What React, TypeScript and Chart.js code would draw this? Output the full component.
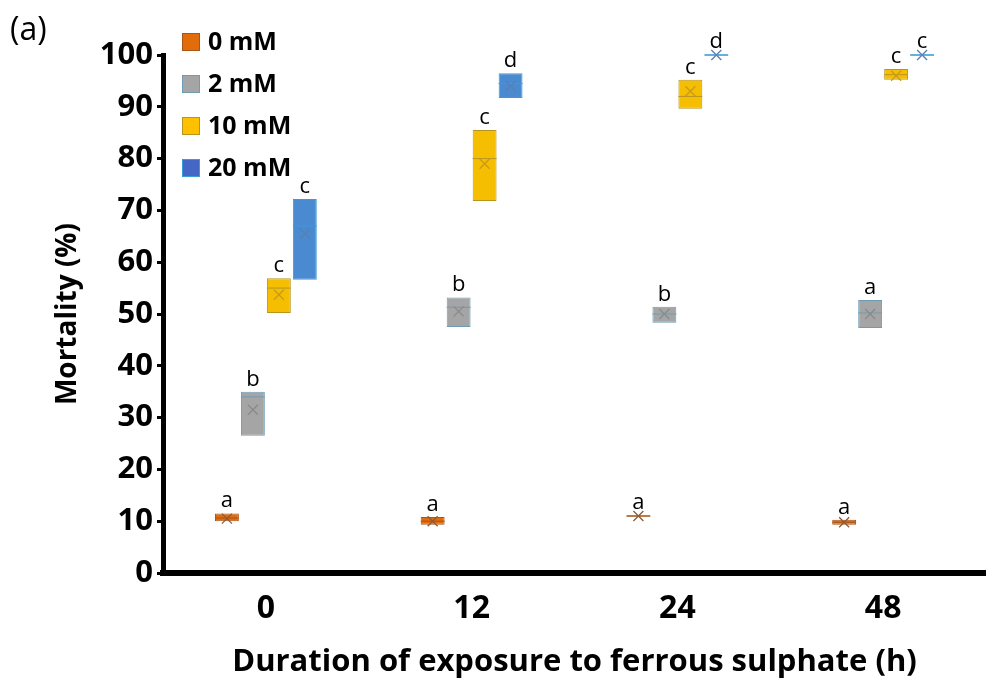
import React, { useEffect, useRef } from 'react';
import { Chart, registerables } from 'chart.js';

Chart.register(...registerables);

// ---- data ----
const categories = ['0', '12', '24', '48'];
const seriesNames = ['0 mM', '2 mM', '10 mM', '20 mM'];

const low0mM = [10, 9.3, 10.85, 9.3];
const high0mM = [11.5, 10.8, 11.15, 10.3];
const median0mM = [10.6, 10, 11, 9.8];
const mean0mM = [10.5, 10, 11, 9.8];
const letters0mM = ['a', 'a', 'a', 'a'];

const low2mM = [26.5, 47.5, 48.3, 47.3];
const high2mM = [35, 53.2, 51.4, 52.7];
const median2mM = [34, 51.3, 50, 50.2];
const mean2mM = [31.5, 50.5, 50, 50];
const letters2mM = ['b', 'b', 'b', 'a'];

const low10mM = [50.2, 71.8, 89.6, 95.2];
const high10mM = [56.9, 85.5, 95.2, 97.3];
const median10mM = [55, 80, 92, 96.2];
const mean10mM = [53.7, 79, 93, 96];
const letters10mM = ['c', 'c', 'c', 'c'];

const low20mM = [56.6, 91.7, 99.85, 99.85];
const high20mM = [72.2, 96.5, 100.15, 100.15];
const median20mM = [67, 94.5, 100, 100];
const mean20mM = [65.5, 94, 100, 100];
const letters20mM = ['c', 'd', 'd', 'c'];

const yTicks = [0, 10, 20, 30, 40, 50, 60, 70, 80, 90, 100];

// ---- styles ----
const fillColors = ['#E36C0A', '#A5A5A5', '#F5BE00', '#4A8AD0'];
const borderColors = ['#A9551A', '#6E9CB5', '#B99520', '#3C9BD6'];
const legendColors = ['#E36C0A', '#A5A5A5', '#FFC000', '#4466C4'];
const markerColors = ['#8C5A3C', '#8A8A8A', '#C89A20', '#5A7FB0'];

const lows = [low0mM, low2mM, low10mM, low20mM];
const highs = [high0mM, high2mM, high10mM, high20mM];
const medians = [median0mM, median2mM, median10mM, median20mM];
const means = [mean0mM, mean2mM, mean10mM, mean20mM];
const letters = [letters0mM, letters2mM, letters10mM, letters20mM];

const FONT = '"Open Sans", "Noto Sans", sans-serif';

const overlayPlugin = {
  id: 'overlay',
  afterDatasetsDraw(chart: any) {
    const ctx = chart.ctx;
    const ys = chart.scales.y;
    ctx.save();
    chart.data.datasets.forEach((ds: any, di: number) => {
      const meta = chart.getDatasetMeta(di);
      meta.data.forEach((bar: any, i: number) => {
        const p = bar.getProps(['x', 'y', 'base', 'width'], true);
        const half = p.width / 2;
        // median line
        const ym = ys.getPixelForValue(medians[di][i]);
        ctx.strokeStyle = borderColors[di];
        ctx.lineWidth = 1;
        ctx.beginPath();
        ctx.moveTo(p.x - half, ym);
        ctx.lineTo(p.x + half, ym);
        ctx.stroke();
        // mean marker
        const yMean = ys.getPixelForValue(means[di][i]);
        const s = 5;
        ctx.strokeStyle = markerColors[di];
        ctx.lineWidth = 1.3;
        ctx.beginPath();
        ctx.moveTo(p.x - s, yMean - s);
        ctx.lineTo(p.x + s, yMean + s);
        ctx.moveTo(p.x + s, yMean - s);
        ctx.lineTo(p.x - s, yMean + s);
        ctx.stroke();
        // significance letter
        const top = Math.min(p.y, p.base);
        ctx.fillStyle = '#000';
        ctx.font = `22px ${FONT}`;
        ctx.textAlign = 'center';
        ctx.textBaseline = 'alphabetic';
        ctx.fillText(letters[di][i], p.x, top - 6);
      });
    });
    ctx.restore();
  },
  afterDraw(chart: any) {
    const ctx = chart.ctx;
    const area = chart.chartArea;
    ctx.save();
    // legend
    chart.data.datasets.forEach((ds: any, di: number) => {
      const bx = area.left + 19;
      const by = area.top - 22 + di * 42;
      ctx.fillStyle = legendColors[di];
      ctx.fillRect(bx, by, 18, 18);
      ctx.strokeStyle = borderColors[di];
      ctx.lineWidth = 1;
      ctx.strokeRect(bx + 0.5, by + 0.5, 17, 17);
      ctx.fillStyle = '#000';
      ctx.font = `bold 25px ${FONT}`;
      ctx.textAlign = 'left';
      ctx.textBaseline = 'middle';
      ctx.fillText(ds.label, bx + 26, by + 10);
    });
    // panel label
    ctx.font = `32px ${FONT}`;
    ctx.textAlign = 'left';
    ctx.textBaseline = 'middle';
    ctx.fillStyle = '#000';
    ctx.fillText('(a)', 10, 31);
    ctx.restore();
  },
};

export default function App() {
  const ref = useRef<HTMLCanvasElement | null>(null);
  useEffect(() => {
    if (!ref.current) return;
    const chart = new Chart(ref.current, {
      type: 'bar',
      data: {
        labels: categories,
        datasets: seriesNames.map((name, di) => ({
          label: name,
          data: lows[di].map((lo, i) => [lo, highs[di][i]]),
          backgroundColor: fillColors[di],
          borderColor: borderColors[di],
          borderWidth: 1,
          borderSkipped: false,
          categoryPercentage: 0.505,
          barPercentage: 0.92,
          clip: 20,
        })) as any,
      },
      options: {
        responsive: false,
        animation: false,
        layout: { padding: { left: 0, top: 55, right: 3, bottom: 0 } },
        plugins: {
          legend: { display: false },
          tooltip: { enabled: false },
        },
        scales: {
          x: {
            grid: { display: true, drawOnChartArea: false, drawTicks: false, lineWidth: 0 },
            border: { display: true, color: '#000', width: 6 },
            ticks: {
              color: '#000',
              padding: 17,
              font: { family: FONT, size: 32, weight: 'bold' },
            },
            title: {
              display: true,
              text: 'Duration of exposure to ferrous sulphate (h)',
              color: '#000',
              font: { family: FONT, size: 31, weight: 'bold' },
              padding: { top: 0, bottom: 0 },
            },
            afterFit: (scale: any) => {
              scale.height = 108;
            },
          },
          y: {
            min: 0,
            max: 100,
            afterBuildTicks: (scale: any) => {
              scale.ticks = yTicks.map((v) => ({ value: v }));
            },
            grid: {
              display: true,
              drawOnChartArea: false,
              drawTicks: true,
              tickLength: 6,
              color: '#000',
              lineWidth: 3,
            },
            border: { display: true, color: '#000', width: 5 },
            ticks: {
              color: '#000',
              padding: 4,
              font: { family: FONT, size: 31, weight: 'bold' },
            },
            title: {
              display: true,
              text: 'Mortality (%)',
              color: '#000',
              font: { family: FONT, size: 28, weight: 'bold' },
              padding: { top: 51, bottom: 0 },
            },
            afterFit: (scale: any) => {
              scale.width = 163;
            },
          },
        },
      },
      plugins: [overlayPlugin],
    });
    return () => chart.destroy();
  }, []);
  return (
    <div style={{ position: 'fixed', left: 0, top: 0, width: 989, height: 681, background: '#fff' }}>
      <canvas ref={ref} width={989} height={681} style={{ display: 'block' }} />
    </div>
  );
}
